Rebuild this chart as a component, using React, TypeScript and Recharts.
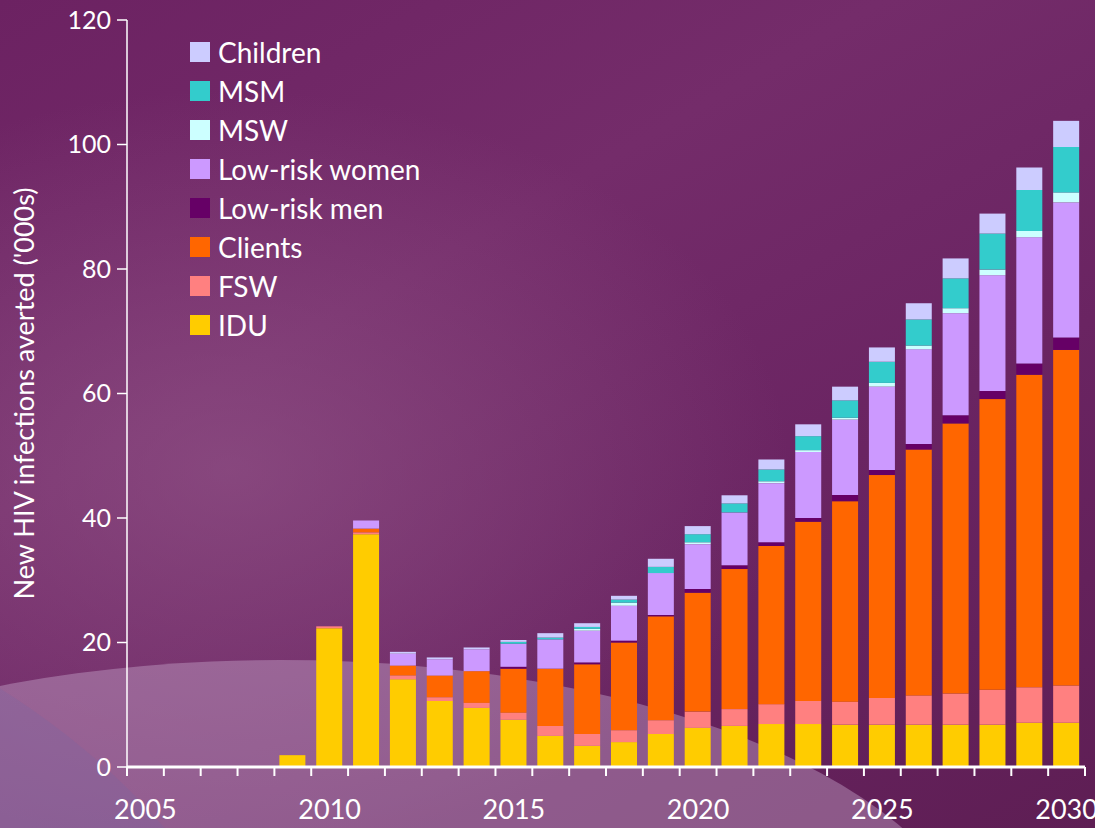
import React from "react";
import { BarChart, Bar, XAxis, YAxis } from "recharts";

const years = [
    "2005", "2006", "2007", "2008", "2009", "2010", "2011", "2012", "2013",
    "2014", "2015", "2016", "2017", "2018", "2019", "2020", "2021", "2022",
    "2023", "2024", "2025", "2026", "2027", "2028", "2029", "2030",
];

// thousands of infections averted, per group
const idu = [0, 0, 0, 0, 1.9, 22.3, 37.4, 14.1, 10.6, 9.5, 7.6, 5.0, 3.4, 4.0, 5.3, 6.3, 6.6, 6.9, 6.9, 6.8, 6.8, 6.8, 6.8, 6.8, 7.1, 7.1];
const fsw = [0, 0, 0, 0, 0, 0.3, 0.3, 0.6, 0.6, 0.8, 1.1, 1.6, 1.9, 1.9, 2.2, 2.6, 2.7, 3.2, 3.7, 3.7, 4.3, 4.7, 5.0, 5.6, 5.7, 6.0];
const clients = [0, 0, 0, 0, 0, 0, 0.6, 1.6, 3.5, 5.1, 7.1, 9.2, 11.2, 14.1, 16.7, 19.1, 22.5, 25.4, 28.8, 32.2, 35.8, 39.5, 43.4, 46.7, 50.2, 53.9];
const lowRiskMen = [0, 0, 0, 0, 0, 0, 0, 0, 0, 0, 0.3, 0, 0.3, 0.3, 0.2, 0.6, 0.6, 0.6, 0.6, 1.0, 0.8, 0.9, 1.3, 1.3, 1.8, 2.0];
const lowRiskWomen = [0, 0, 0, 0, 0, 0, 1.3, 1.9, 2.6, 3.5, 3.7, 4.7, 5.1, 5.6, 6.75, 7.2, 8.5, 9.5, 10.6, 12.1, 13.4, 15.2, 16.4, 18.6, 20.3, 21.7];
const msw = [0, 0, 0, 0, 0, 0, 0, 0, 0, 0, 0, 0, 0.3, 0.5, 0, 0.3, 0, 0.3, 0.3, 0.3, 0.6, 0.6, 0.8, 0.9, 1.0, 1.6];
const msm = [0, 0, 0, 0, 0, 0, 0, 0, 0, 0, 0.3, 0.3, 0.3, 0.5, 1.0, 1.3, 1.45, 1.9, 2.25, 2.8, 3.4, 4.2, 4.8, 5.8, 6.6, 7.3];
const children = [0, 0, 0, 0, 0, 0, 0, 0.3, 0.3, 0.3, 0.3, 0.7, 0.6, 0.6, 1.3, 1.3, 1.3, 1.6, 1.9, 2.2, 2.3, 2.6, 3.2, 3.2, 3.6, 4.2];

const yTicks = [0, 20, 40, 60, 80, 100, 120];

// stacking order, bottom to top
const series = [
    { key: "idu", name: "IDU", color: "#ffcc00" },
    { key: "fsw", name: "FSW", color: "#ff8080" },
    { key: "clients", name: "Clients", color: "#ff6600" },
    { key: "lrm", name: "Low-risk men", color: "#660066" },
    { key: "lrw", name: "Low-risk women", color: "#cc99ff" },
    { key: "msw", name: "MSW", color: "#ccffff" },
    { key: "msm", name: "MSM", color: "#33cccc" },
    { key: "children", name: "Children", color: "#ccccff" },
];

const data = years.map((year, i) => ({
    year,
    idu: idu[i],
    fsw: fsw[i],
    clients: clients[i],
    lrm: lowRiskMen[i],
    lrw: lowRiskWomen[i],
    msw: msw[i],
    msm: msm[i],
    children: children[i],
}));

const FONT = "Lato, 'Open Sans', sans-serif";

// ticks sit on the category edges, labels every 5 years
function YearTick(props: any) {
    const { x, y, payload, index } = props;
    const off = payload.offset ?? 0;
    const last = index === years.length - 1;
    return (
        <g>
            <line x1={x - off} y1={y} x2={x - off} y2={y + 9} stroke="#fff" strokeWidth={2} />
            {last && <line x1={x + off} y1={y} x2={x + off} y2={y + 9} stroke="#fff" strokeWidth={2} />}
            {index % 5 === 0 && (
                <text x={x} y={y + 33} dy="0.71em" textAnchor="middle" fill="#fff" fontSize={27}>
                    {payload.value}
                </text>
            )}
        </g>
    );
}

function LegendBox() {
    return (
        <div style={{ position: "absolute", left: 190, top: 32, fontFamily: FONT }}>
            {[...series].reverse().map(s => (
                <div key={s.key} style={{ display: "flex", alignItems: "center", height: 39 }}>
                    <span style={{ width: 20, height: 20, background: s.color, marginRight: 8 }} />
                    <span style={{ color: "#fff", fontSize: 28 }}>{s.name}</span>
                </div>
            ))}
        </div>
    );
}

export default function App() {
    return (
        <div
            style={{
                position: "absolute",
                top: 0,
                left: 0,
                width: 1095,
                height: 828,
                overflow: "hidden",
                background:
                    "radial-gradient(ellipse 560px 380px at 230px 470px, rgba(150,90,140,0.6), rgba(150,90,140,0) 100%), linear-gradient(150deg, #6c2262 0%, #742c6a 35%, #6a2462 65%, #5e1e54 100%)",
            }}
        >
            <div
                style={{
                    position: "absolute",
                    left: -420,
                    top: 660,
                    width: 1400,
                    height: 620,
                    borderRadius: "50%",
                    background: "rgba(200,170,205,0.42)",
                }}
            />
            <div
                style={{
                    position: "absolute",
                    left: -600,
                    top: 640,
                    width: 900,
                    height: 500,
                    borderRadius: "50%",
                    background: "rgba(110,105,170,0.2)",
                    transform: "rotate(30deg)",
                }}
            />
            <div style={{ position: "absolute", top: 0, left: 0 }}>
                <BarChart
                    width={1095}
                    height={828}
                    data={data}
                    margin={{ top: 20, right: 10, bottom: 0, left: 0 }}
                    style={{ fontFamily: FONT }}
                >
                    <XAxis
                        dataKey="year"
                        interval={0}
                        tickLine={false}
                        tickSize={0}
                        tickMargin={0}
                        axisLine={{ stroke: "#fff", strokeWidth: 3 }}
                        tick={<YearTick />}
                        height={61}
                    />
                    <YAxis
                        domain={[0, 120]}
                        ticks={yTicks}
                        width={127}
                        tickSize={10}
                        tickMargin={6}
                        tickLine={{ stroke: "#fff", strokeWidth: 1.5 }}
                        axisLine={{ stroke: "#fff", strokeWidth: 1.5 }}
                        tick={{ fill: "#fff", fontSize: 25 }}
                        label={{
                            value: "New HIV infections averted ('000s)",
                            angle: -90,
                            position: "insideLeft",
                            offset: 24,
                            style: { textAnchor: "middle", fill: "#fff", fontSize: 27 },
                        }}
                    />
                    {series.map(s => (
                        <Bar
                            key={s.key}
                            dataKey={s.key}
                            name={s.name}
                            stackId="a"
                            fill={s.color}
                            barSize={26}
                            isAnimationActive={false}
                        />
                    ))}
                </BarChart>
            </div>
            <LegendBox />
        </div>
    );
}
